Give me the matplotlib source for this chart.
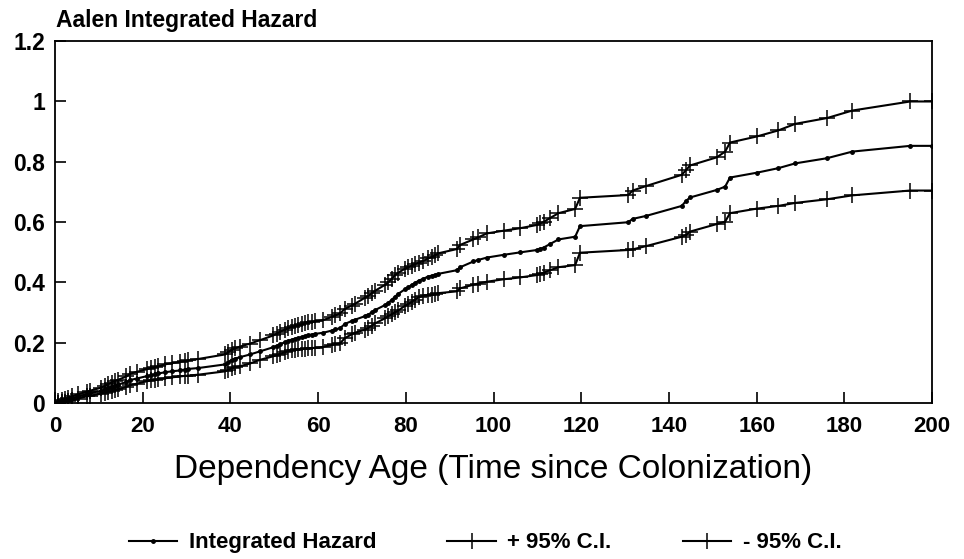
import numpy as np
import matplotlib.pyplot as plt

plt.rcParams['font.family'] = ['Liberation Sans', 'DejaVu Sans']

# event times (dependency age) and the Aalen estimate with its 95% bounds
times = [0, 0.8, 1.5, 2.3, 3.0, 4.0, 5.3, 7.2, 8.0, 10.6, 11.4, 12.2, 12.9, 13.7,
         14.4, 16.3, 17.1, 18.6, 20.9, 22.0, 22.8, 23.6, 25.1, 26.6, 28.5, 29.6,
         30.4, 32.7, 38.8, 39.5, 40.3, 41.0, 42.2, 44.5, 46.7, 49.8, 50.6, 51.3,
         52.4, 53.2, 54.0, 54.7, 55.5, 56.3, 57.0, 57.8, 58.5, 59.3, 61.2, 63.1,
         63.9, 65.0, 66.1, 67.7, 68.4, 70.7, 71.4, 72.2, 73.0, 75.3, 76.0, 76.8,
         77.5, 78.3, 79.8, 80.6, 81.3, 82.1, 82.9, 84.0, 85.1, 85.9, 86.7, 87.4,
         91.6, 92.4, 95.4, 96.5, 98.5, 102.3, 106.0, 109.9, 110.6, 111.4, 112.9,
         114.8, 118.6, 119.7, 130.7, 131.7, 134.8, 142.9, 143.9, 144.8, 150.9,
         152.8, 153.9, 160.0, 164.9, 168.8, 176.0, 181.8, 195.0, 200.0]

hazard = [0, 0.003, 0.006, 0.009, 0.012, 0.016, 0.022, 0.029, 0.032, 0.041, 0.045,
          0.050, 0.054, 0.058, 0.061, 0.070, 0.076, 0.081, 0.089, 0.093, 0.095,
          0.098, 0.102, 0.105, 0.108, 0.111, 0.113, 0.116, 0.128, 0.135, 0.143,
          0.147, 0.152, 0.161, 0.171, 0.185, 0.190, 0.195, 0.201, 0.206, 0.210,
          0.213, 0.216, 0.219, 0.222, 0.225, 0.227, 0.229, 0.233, 0.240, 0.244,
          0.248, 0.262, 0.272, 0.276, 0.288, 0.293, 0.300, 0.308, 0.325, 0.332,
          0.342, 0.352, 0.362, 0.377, 0.384, 0.391, 0.398, 0.405, 0.412, 0.419,
          0.422, 0.425, 0.428, 0.440, 0.450, 0.469, 0.474, 0.482, 0.491, 0.499,
          0.507, 0.511, 0.515, 0.527, 0.542, 0.551, 0.586, 0.599, 0.610, 0.620,
          0.653, 0.670, 0.681, 0.706, 0.717, 0.747, 0.763, 0.778, 0.794, 0.811,
          0.833, 0.852, 0.852]

upper = [0, 0.006, 0.010, 0.014, 0.018, 0.023, 0.029, 0.037, 0.041, 0.051, 0.057,
         0.063, 0.068, 0.073, 0.077, 0.088, 0.097, 0.103, 0.112, 0.116, 0.119,
         0.122, 0.128, 0.132, 0.136, 0.139, 0.141, 0.146, 0.161, 0.168, 0.177,
         0.181, 0.187, 0.197, 0.208, 0.224, 0.230, 0.236, 0.243, 0.248, 0.252,
         0.255, 0.258, 0.261, 0.264, 0.267, 0.269, 0.271, 0.275, 0.285, 0.290,
         0.297, 0.312, 0.323, 0.329, 0.349, 0.355, 0.363, 0.372, 0.392, 0.400,
         0.412, 0.423, 0.432, 0.445, 0.450, 0.455, 0.460, 0.465, 0.471, 0.479,
         0.484, 0.489, 0.496, 0.510, 0.524, 0.542, 0.549, 0.562, 0.571, 0.579,
         0.590, 0.595, 0.600, 0.613, 0.629, 0.643, 0.680, 0.689, 0.704, 0.719,
         0.756, 0.772, 0.787, 0.814, 0.833, 0.863, 0.883, 0.903, 0.925, 0.944,
         0.969, 0.999, 0.999]

lower = [0, 0.001, 0.002, 0.004, 0.006, 0.009, 0.015, 0.022, 0.024, 0.031, 0.034,
         0.037, 0.040, 0.042, 0.045, 0.054, 0.059, 0.064, 0.072, 0.075, 0.077,
         0.079, 0.082, 0.085, 0.088, 0.090, 0.091, 0.094, 0.105, 0.110, 0.115,
         0.118, 0.122, 0.131, 0.143, 0.155, 0.159, 0.163, 0.168, 0.172, 0.175,
         0.177, 0.178, 0.179, 0.180, 0.181, 0.182, 0.183, 0.186, 0.192, 0.195,
         0.198, 0.215, 0.228, 0.233, 0.243, 0.249, 0.256, 0.264, 0.281, 0.288,
         0.294, 0.300, 0.307, 0.322, 0.328, 0.335, 0.343, 0.350, 0.355, 0.358,
         0.359, 0.361, 0.364, 0.370, 0.380, 0.392, 0.396, 0.402, 0.410, 0.416,
         0.424, 0.428, 0.432, 0.440, 0.450, 0.457, 0.498, 0.507, 0.509, 0.520,
         0.551, 0.557, 0.568, 0.593, 0.601, 0.629, 0.644, 0.653, 0.663, 0.675,
         0.688, 0.704, 0.704]

xticks = [0, 20, 40, 60, 80, 100, 120, 140, 160, 180, 200]
yticks = [0, 0.2, 0.4, 0.6, 0.8, 1.0, 1.2]
ylabels = ['0', '0.2', '0.4', '0.6', '0.8', '1', '1.2']

fig = plt.figure(figsize=(9.64, 5.59), dpi=100)
ax = fig.add_axes([0.057, 0.279, 0.910, 0.648])

ax.plot(times, hazard, color='black', lw=1.5, marker='.', markersize=5,
        label='Integrated Hazard')
ax.plot(times, upper, color='black', lw=1.5, marker='+', markersize=11,
        markeredgewidth=1.1, label='+ 95% C.I.')
ax.plot(times, lower, color='black', lw=1.5, marker='+', markersize=11,
        markeredgewidth=1.1, label='- 95% C.I.')

ax.set_xlim(0, 200)
ax.set_ylim(0, 1.2)
ax.set_xticks(xticks)
ax.set_xticklabels([str(t) for t in xticks], fontsize=16, fontweight='bold')
ax.set_yticks(yticks)
ax.set_yticklabels(ylabels, fontsize=16.5, fontweight='bold')
ax.tick_params(direction='in', length=8, width=1.2, top=False, right=False)
ax.tick_params(axis='x', pad=9)
ax.tick_params(axis='y', pad=7)
for s in ax.spines.values():
    s.set_linewidth(1.3)

ax.set_xlabel('Dependency Age (Time since Colonization)', fontsize=24)
ax.xaxis.set_label_coords(0.5, -0.14)
fig.text(0.058, 0.964, 'Aalen Integrated Hazard', fontsize=16.5, fontweight='bold',
         ha='left', va='center')

fig.legend(loc='center', bbox_to_anchor=(0.503, 0.029), ncol=3, frameon=False,
           prop={'size': 16, 'weight': 'bold'}, handlelength=2.2, columnspacing=3.2,
           handletextpad=0.5, borderaxespad=0)

fig.savefig('out.png', dpi=100)
